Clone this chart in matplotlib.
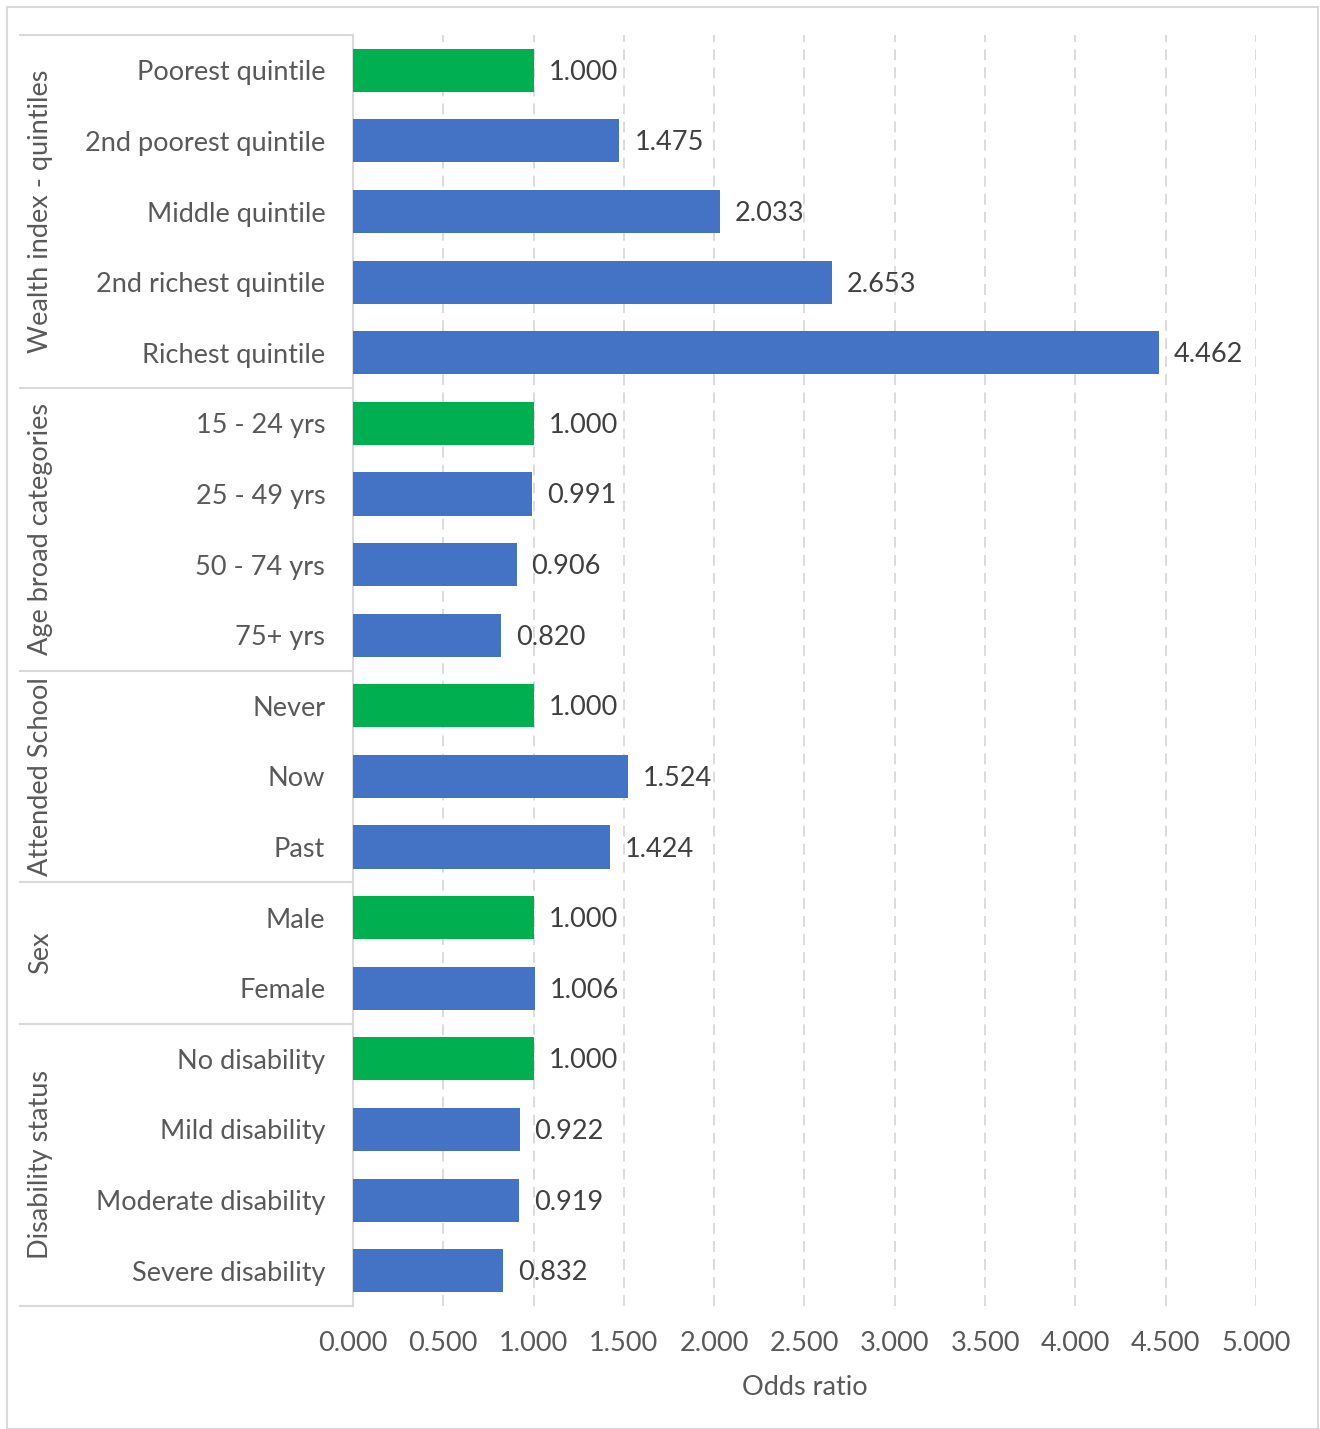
import matplotlib.pyplot as plt
from matplotlib.patches import Rectangle
from matplotlib.lines import Line2D

plt.rcParams['font.family'] = ['Lato', 'DejaVu Sans']

# data, top to bottom
groups = ['Wealth index - quintiles', 'Age broad categories', 'Attended School', 'Sex', 'Disability status']
group_labels = [
    ['Poorest quintile', '2nd poorest quintile', 'Middle quintile', '2nd richest quintile', 'Richest quintile'],
    ['15 - 24 yrs', '25 - 49 yrs', '50 - 74 yrs', '75+ yrs'],
    ['Never', 'Now', 'Past'],
    ['Male', 'Female'],
    ['No disability', 'Mild disability', 'Moderate disability', 'Severe disability'],
]
group_values = [
    [1.000, 1.475, 2.033, 2.653, 4.462],
    [1.000, 0.991, 0.906, 0.820],
    [1.000, 1.524, 1.424],
    [1.000, 1.006],
    [1.000, 0.922, 0.919, 0.832],
]
xticks = [0, 0.5, 1, 1.5, 2, 2.5, 3, 3.5, 4, 4.5, 5]

GREEN = '#00B050'
BLUE = '#4472C4'
LABEL = '#595959'
VALUE = '#404040'
RULE = '#D9D9D9'
FS = 19.5

labels = [l for g in group_labels for l in g]
values = [v for g in group_values for v in g]
colors = [GREEN if i == 0 else BLUE for g in group_values for i in range(len(g))]
n = len(values)
ypos = list(range(n))

fig = plt.figure(figsize=(13.2, 14.29), dpi=100)
ax = fig.add_axes([353 / 1320, 123 / 1429, 903 / 1320, 1271 / 1429])

ax.barh(ypos, values, height=0.61, color=colors, zorder=3)
for y, v in zip(ypos, values):
    ax.annotate(f'{v:.3f}', (v, y), xytext=(15, -2), textcoords='offset pixels',
                va='center', ha='left', fontsize=FS, color=VALUE)

ax.set_ylim(n - 0.5, -0.5)
ax.set_xlim(0, 5)
ax.set_xticks(xticks)
ax.set_xticklabels([f'{t:.3f}' for t in xticks], fontsize=FS, color=LABEL)
ax.set_yticks(ypos)
ax.set_yticklabels(labels, fontsize=FS, color=LABEL)
ax.tick_params(axis='both', length=0)
ax.tick_params(axis='y', pad=20)
ax.tick_params(axis='x', pad=18)
ax.xaxis.grid(True, color=RULE, linestyle=(0, (6, 4)), linewidth=1.3, zorder=0)
ax.set_axisbelow(True)
for s in ['top', 'right', 'bottom']:
    ax.spines[s].set_visible(False)
ax.spines['left'].set_color(RULE)
ax.spines['left'].set_linewidth(1.5)
ax.set_xlabel('Odds ratio', fontsize=FS, color=LABEL, labelpad=14)

# group separators and group titles
x0 = (20 - 353) / 903 * 5
start = 0
bounds = [-0.5]
for g, lab in zip(groups, group_labels):
    end = start + len(lab)
    bounds.append(end - 0.5)
    ax.text(x0 + 0.115, (start + end - 1) / 2, g, rotation=90, ha='center', va='center',
            fontsize=FS, color=LABEL, clip_on=False)
    start = end
for b in bounds:
    ax.add_line(Line2D([x0, 0], [b, b], color=RULE, linewidth=1.5, clip_on=False))

# outer border
fig.patches.append(Rectangle((7 / 1320, 0), 1311 / 1320, 1422 / 1429, transform=fig.transFigure,
                             fill=False, edgecolor=RULE, linewidth=1.5))

fig.savefig('out.png', dpi=100)
